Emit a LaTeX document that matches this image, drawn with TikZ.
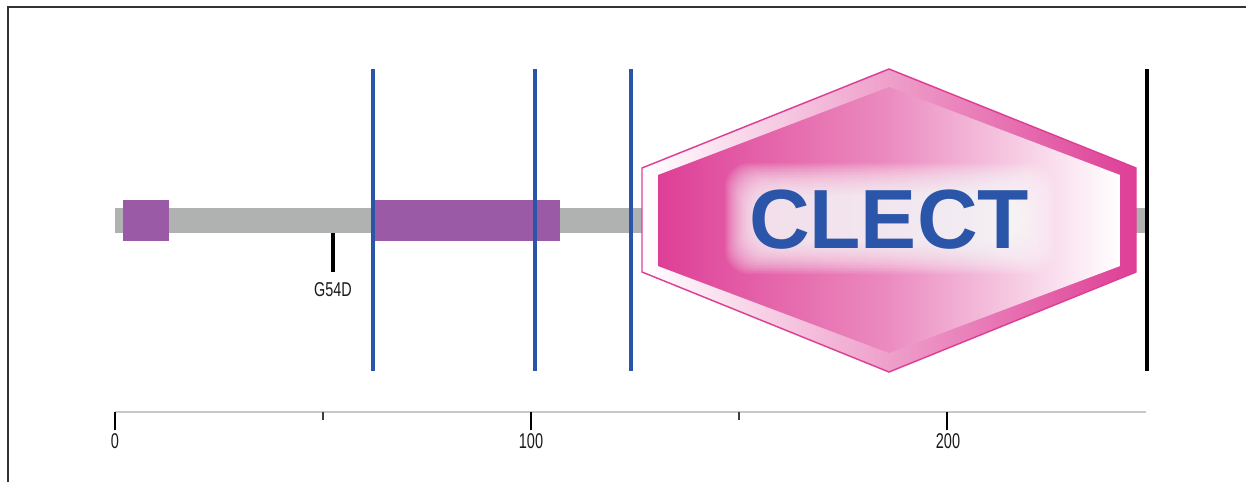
\documentclass[tikz,border=0pt]{standalone}
\usepackage{fontspec}
\setmainfont{Liberation Sans}
\definecolor{barG}{HTML}{B0B2B2}
\definecolor{domP}{HTML}{9B5AA5}
\definecolor{lineB}{HTML}{2A55A8}
\definecolor{hexP}{HTML}{DE3F96}
\definecolor{axisG}{HTML}{C8C8C8}
\definecolor{frameG}{HTML}{333333}
\tikzset{
  seqline/.style={line width=3pt, line cap=butt},
  majortick/.style={line width=2pt, black},
  minortick/.style={line width=1.1pt, black!75},
  smalllabel/.style={font=\fontsize{15}{15}\selectfont, text=black!90, inner sep=0pt},
  glowlayer/.style={fill=white, fill opacity=0.075, rounded corners=18pt},
}
\begin{document}
\begin{tikzpicture}[x=0.75pt,y=-0.75pt]
\useasboundingbox (0,0) rectangle (1246,482);
% frame
\draw[frameG, line width=1.1pt] (8,482) -- (8,7) -- (1246,7);
% backbone
\fill[barG] (115,208) rectangle (1146,233);
% domains
\fill[domP] (123,200) rectangle (169,241);
\fill[domP] (373,200) rectangle (560,241);
% mutation
\coordinate (mtop) at (333,233);
\coordinate (mbot) at (333,272);
\draw[black, line width=2.3pt] (mtop) -- (mbot);
\node[smalllabel, anchor=base] (g54d) at (333,296) {\scalebox{0.72}[1]{G54D}};
% CLECT hexagon
\coordinate (hL1) at (642,168); \coordinate (hT) at (889,69); \coordinate (hR1) at (1136,168);
\coordinate (hR2) at (1136,272); \coordinate (hB) at (889,372); \coordinate (hL2) at (642,272);
\shade[left color=white, right color=hexP] (hL1) -- (hT) -- (hR1) -- (hR2) -- (hB) -- (hL2) -- cycle;
\shade[left color=hexP, right color=white, middle color=hexP!60!white] (658,175) -- (889,87) -- (1120,175) -- (1120,266) -- (889,353) -- (658,266) -- cycle;
\foreach \e in {0,1.5,...,33} {
  \fill[glowlayer] (758-\e,196-\e) rectangle (1021+\e,241+\e);
}
\draw[hexP, line width=1.1pt, line join=miter] (hL1) -- (hT) -- (hR1) -- (hR2) -- (hB) -- (hL2) -- cycle;
\node[text=lineB, font=\fontsize{63}{63}\selectfont\bfseries, inner sep=0pt, anchor=base] (clect) at (889,248) {CLECT};
% vertical markers
\draw[seqline, lineB] (372.5,69) -- (372.5,371);
\draw[seqline, lineB] (535,69) -- (535,371);
\draw[seqline, lineB] (631,69) -- (631,371);
\draw[seqline, black] (1147,69) -- (1147,371);
% axis
\coordinate (a0) at (115,412);
\coordinate (aend) at (1146,412);
\draw[axisG, line width=1.5pt] (a0) -- (aend);
\draw[majortick, line width=1.6pt] (115,412) -- (115,430);
\draw[majortick] (531,412) -- (531,430);
\draw[majortick] (947,412) -- (947,430);
\draw[minortick] (323,412) -- (323,420);
\draw[minortick] (739,412) -- (739,420);
\node[smalllabel, font=\fontsize{16}{16}\selectfont, anchor=base] (l0) at (115,448) {\scalebox{0.68}[1]{0}};
\node[smalllabel, font=\fontsize{16}{16}\selectfont, anchor=base] (l100) at (531,448) {\scalebox{0.68}[1]{100}};
\node[smalllabel, font=\fontsize{16}{16}\selectfont, anchor=base] (l200) at (948,448) {\scalebox{0.68}[1]{200}};
\end{tikzpicture}
\end{document}
